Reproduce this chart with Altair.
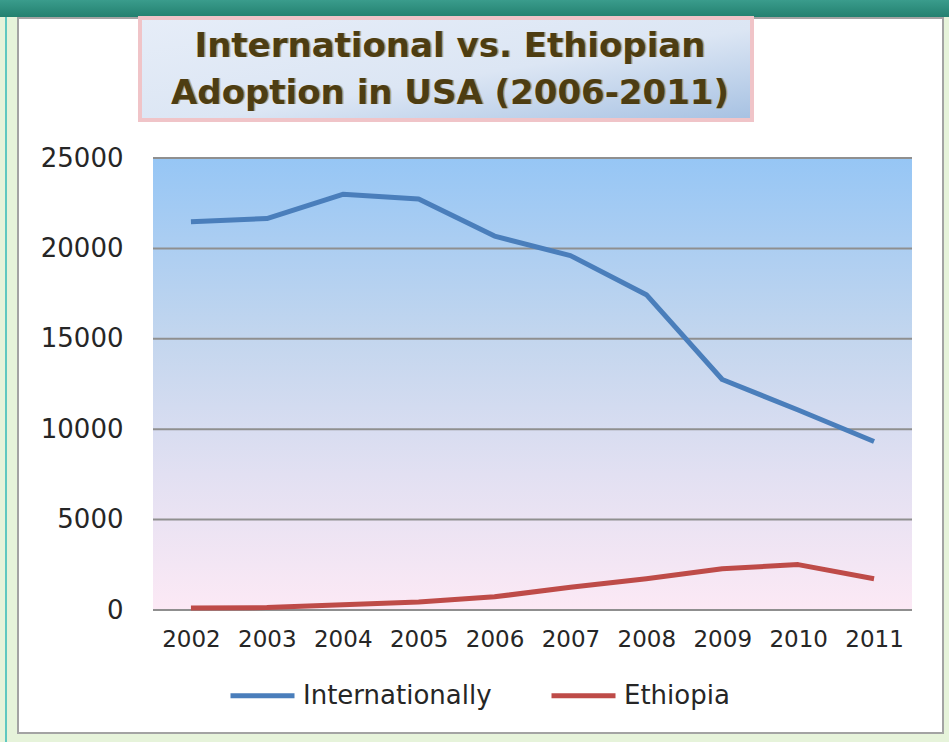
import altair as alt
import pandas as pd

# ---- data ----
years = ["2002", "2003", "2004", "2005", "2006", "2007", "2008", "2009", "2010", "2011"]
internationally = [21470, 21650, 22990, 22730, 20680, 19600, 17440, 12750, 11060, 9320]
ethiopia = [105, 135, 290, 440, 730, 1255, 1725, 2280, 2510, 1730]
series_names = ["Internationally", "Ethiopia"]
series_colors = ["#4a7ebb", "#be4b48"]
y_ticks = [0, 5000, 10000, 15000, 20000, 25000]
title_lines = ["International vs. Ethiopian", "Adoption in USA (2006-2011)"]

W, H = 759, 452

rows = []
for y, a, b in zip(years, internationally, ethiopia):
    rows.append({"year": y, "series": series_names[0], "value": a})
    rows.append({"year": y, "series": series_names[1], "value": b})
df = pd.DataFrame(rows)
one = pd.DataFrame({"k": [0]})
ticks_df = pd.DataFrame({"v": y_ticks})

yscale = alt.Scale(domain=[0, 25000], nice=False, zero=True)
yaxis = alt.Axis(title=None, values=y_ticks, grid=False, domain=False, ticks=False,
                 labelFont="DejaVu Sans", labelFontSize=26, labelColor="#262626",
                 labelPadding=30, zindex=1, format="d")
xaxis = alt.Axis(title=None, grid=False, domain=False, ticks=False, labelAngle=0,
                 labelFont="DejaVu Sans", labelFontSize=23, labelColor="#262626",
                 labelPadding=18, zindex=1, labelBaseline="top")


def box(x1, x2, y1, y2, **kw):
    return alt.Chart(one).mark_rect(**kw).encode(
        x=alt.value(x1), x2=alt.value(x2), y=alt.value(y1), y2=alt.value(y2))


panel = box(-135, 790, -140, 575, fill="white", stroke="#a3a3a3", strokeWidth=2)
topbar = box(-153, 796, -158, -141, fill=alt.LinearGradient(
    gradient="linear", x1=0, x2=0, y1=0, y2=1,
    stops=[alt.GradientStop(color="#3a9c8c", offset=0),
           alt.GradientStop(color="#23806f", offset=1)]))
leftstrip = box(-148, -146, -141, 584, fill="#5fc8c0")

titlebox = box(-13, 599, -140, -38, stroke="#f0c4c8", strokeWidth=4,
               fill=alt.LinearGradient(
                   gradient="linear", x1=0, x2=1, y1=0, y2=1,
                   stops=[alt.GradientStop(color="#e6edf8", offset=0),
                          alt.GradientStop(color="#dce6f4", offset=0.55),
                          alt.GradientStop(color="#a6c1e2", offset=1)]))

t_df = pd.DataFrame({"line": title_lines, "yy": [-101, -54]})
title_shadow = alt.Chart(t_df).mark_text(
    font="DejaVu Sans", fontSize=34, fontWeight="bold", color="#b9ab84",
    align="center", baseline="alphabetic").encode(
    x=alt.value(298.5), y=alt.Y("yy:Q", scale=None), text="line:N")
title_text = alt.Chart(t_df).mark_text(
    font="DejaVu Sans", fontSize=34, fontWeight="bold", color="#4d3d12",
    align="center", baseline="alphabetic").encode(
    x=alt.value(297), y=alt.Y("yy:Q", scale=None), text="line:N")

plotbg = box(0, W, 0, H, fill=alt.LinearGradient(
    gradient="linear", x1=0, x2=0, y1=0, y2=1,
    stops=[alt.GradientStop(color="#96c6f5", offset=0),
           alt.GradientStop(color="#c3d6ee", offset=0.4),
           alt.GradientStop(color="#e2e0f2", offset=0.7),
           alt.GradientStop(color="#fce9f5", offset=1)]))

grid = alt.Chart(ticks_df).mark_rule(color="#8f8f8f", strokeWidth=2).encode(
    y=alt.Y("v:Q", scale=yscale, axis=yaxis))

lines = alt.Chart(df).mark_line(strokeWidth=5, strokeJoin="round").encode(
    x=alt.X("year:O", sort=years, scale=alt.Scale(type="point", padding=0.5), axis=xaxis),
    y=alt.Y("value:Q", scale=yscale, axis=yaxis),
    color=alt.Color("series:N", sort=series_names,
                    scale=alt.Scale(domain=series_names, range=series_colors),
                    legend=alt.Legend(
                        title=None, orient="none", legendX=75, legendY=503,
                        direction="horizontal", symbolType="stroke",
                        symbolSize=4096, symbolStrokeWidth=5,
                        labelFont="DejaVu Sans", labelFontSize=26, labelLimit=0,
                        labelColor="#262626", labelOffset=6, columnPadding=49)),
)

chart = alt.layer(panel, topbar, leftstrip, titlebox, title_shadow, title_text,
                  plotbg, grid, lines).properties(
    width=W, height=H,
    autosize=alt.AutoSizeParams(type="none"),
    padding={"left": 153, "top": 158, "right": 37, "bottom": 132},
    background="#e6f3da",
).configure_view(stroke=None)

chart.save("out.html", embed_options={"renderer": "svg", "actions": False})
